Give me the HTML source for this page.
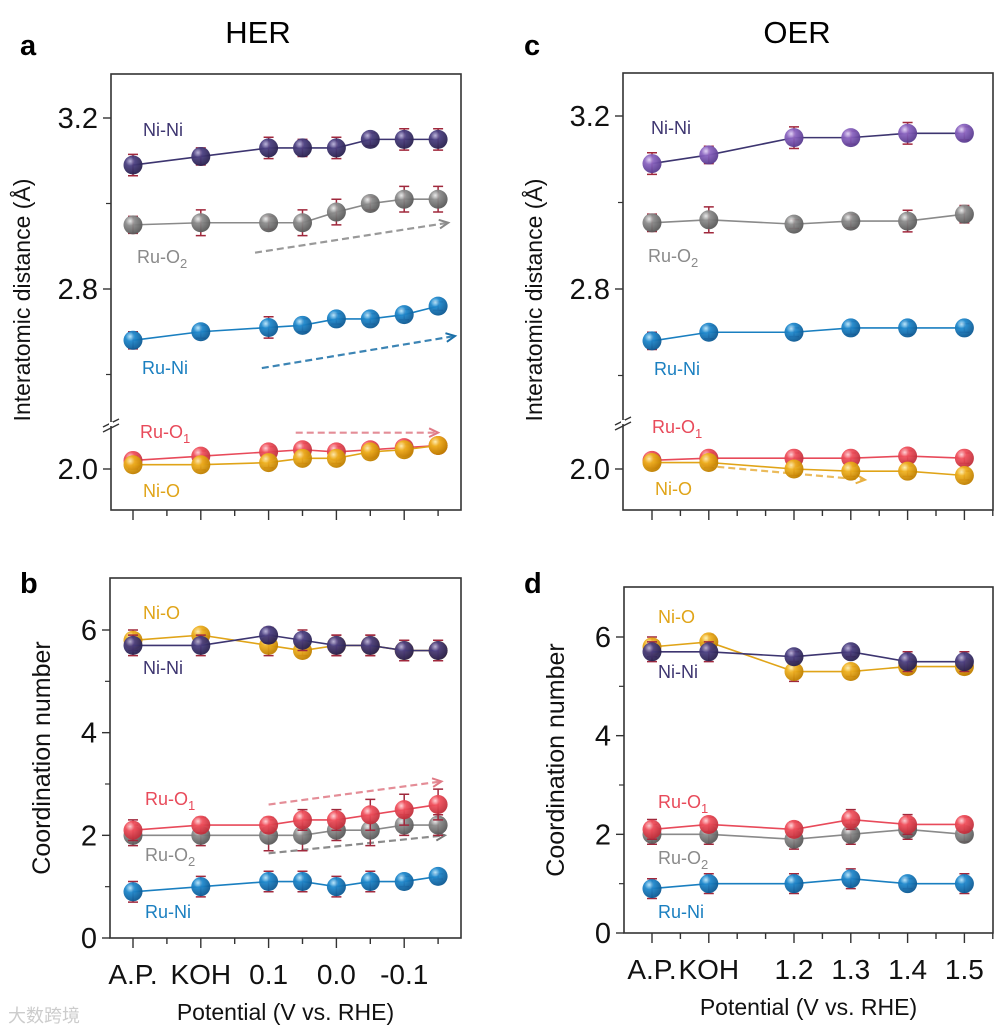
<!DOCTYPE html>
<html><head><meta charset="utf-8"><style>
html,body{margin:0;padding:0;background:#fff;}
svg{display:block;font-family:"Liberation Sans",sans-serif;}
</style></head><body>
<svg id="fig" width="1000" height="1032" viewBox="0 0 1000 1032" xmlns="http://www.w3.org/2000/svg">
<defs>
<radialGradient id="g-nini" cx="35%" cy="30%" r="70%"><stop offset="0" stop-color="#b8b0d8"/><stop offset="0.35" stop-color="#4a3f80"/><stop offset="1" stop-color="#2a2250"/></radialGradient>
<radialGradient id="g-nini2" cx="35%" cy="30%" r="70%"><stop offset="0" stop-color="#e0d0f4"/><stop offset="0.35" stop-color="#8a64c0"/><stop offset="1" stop-color="#5a3c90"/></radialGradient>
<radialGradient id="g-ruo2" cx="35%" cy="30%" r="70%"><stop offset="0" stop-color="#e8e8e8"/><stop offset="0.35" stop-color="#8c8c8c"/><stop offset="1" stop-color="#5a5a5a"/></radialGradient>
<radialGradient id="g-runi" cx="35%" cy="30%" r="70%"><stop offset="0" stop-color="#b8e4fa"/><stop offset="0.35" stop-color="#1f88cc"/><stop offset="1" stop-color="#0d5a94"/></radialGradient>
<radialGradient id="g-ruo1" cx="35%" cy="30%" r="70%"><stop offset="0" stop-color="#ffd0d4"/><stop offset="0.35" stop-color="#f0505c"/><stop offset="1" stop-color="#c0303c"/></radialGradient>
<radialGradient id="g-nio" cx="35%" cy="30%" r="70%"><stop offset="0" stop-color="#fff0b0"/><stop offset="0.35" stop-color="#eeb020"/><stop offset="1" stop-color="#c08000"/></radialGradient>
</defs>
<text x="258" y="43" font-size="31" text-anchor="middle">HER</text>
<text x="797" y="43" font-size="31" text-anchor="middle">OER</text>
<text x="20" y="55" font-size="29" font-weight="bold">a</text>
<text x="20" y="593" font-size="29" font-weight="bold">b</text>
<text x="524" y="55" font-size="29" font-weight="bold">c</text>
<text x="524" y="593" font-size="29" font-weight="bold">d</text>
</svg>
<script>
// ---------- data ----------
const herTickLabels = ["A.P.","KOH","0.1","0.0","-0.1"];
const oerTickLabels = ["A.P.","KOH","1.2","1.3","1.4","1.5"];
const herXIndex = [0,2,4,5,6,7,8,9];
const oerXIndex = [0,2,5,7,9,11];
const distTicks = [2.0,2.8,3.2];
const cnTicks = [0,2,4,6];

const aNiNi = [3.09,3.11,3.13,3.13,3.13,3.15,3.15,3.15];
const aNiNiErr = [0.025,0.02,0.025,0.02,0.025,0.015,0.025,0.025];
const aRuO2 = [2.95,2.955,2.955,2.955,2.98,3.00,3.01,3.01];
const aRuO2Err = [0.02,0.03,0.015,0.03,0.03,0.015,0.03,0.03];
const aRuNi = [2.68,2.70,2.71,2.715,2.73,2.73,2.74,2.76];
const aRuNiErr = [0.02,0.015,0.025,0.015,0.012,0.012,0.012,0.01];
const aRuO1 = [2.02,2.03,2.04,2.045,2.04,2.045,2.05,2.055];
const aRuO1Err = [0.01,0.012,0.012,0.015,0.012,0.012,0.015,0.012];
const aNiO = [2.01,2.01,2.015,2.025,2.025,2.04,2.045,2.055];
const aNiOErr = [0.01,0.012,0.012,0.012,0.012,0.012,0.012,0.012];

const bNiO = [5.8,5.9,5.7,5.6,5.7,5.7,5.6,5.6];
const bNiOErr = [0.2,0.1,0.2,0.1,0.2,0.2,0.2,0.2];
const bNiNi = [5.7,5.7,5.9,5.8,5.7,5.7,5.6,5.6];
const bNiNiErr = [0.2,0.2,0.15,0.2,0.2,0.2,0.2,0.2];
const bRuO1 = [2.1,2.2,2.2,2.3,2.3,2.4,2.5,2.6];
const bRuO1Err = [0.2,0.15,0.15,0.2,0.2,0.3,0.3,0.3];
const bRuO2 = [2.0,2.0,2.0,2.0,2.1,2.1,2.2,2.2];
const bRuO2Err = [0.2,0.2,0.3,0.3,0.2,0.3,0.2,0.2];
const bRuNi = [0.9,1.0,1.1,1.1,1.0,1.1,1.1,1.2];
const bRuNiErr = [0.2,0.2,0.2,0.2,0.2,0.2,0.1,0.05];

const cNiNi = [3.09,3.11,3.15,3.15,3.16,3.16];
const cNiNiErr = [0.025,0.02,0.025,0.015,0.025,0.015];
const cRuO2 = [2.953,2.96,2.95,2.957,2.957,2.973];
const cRuO2Err = [0.02,0.03,0.01,0.015,0.025,0.02];
const cRuNi = [2.68,2.70,2.70,2.71,2.71,2.71];
const cRuNiErr = [0.02,0.015,0.01,0.015,0.015,0.01];
const cRuO1 = [2.02,2.025,2.025,2.025,2.03,2.025];
const cRuO1Err = [0.012,0.012,0.012,0.012,0.012,0.012];
const cNiO = [2.015,2.015,2.0,1.995,1.995,1.985];
const cNiOErr = [0.012,0.012,0.015,0.012,0.012,0.01];

const dNiO = [5.8,5.9,5.3,5.3,5.4,5.4];
const dNiOErr = [0.2,0.15,0.2,0.1,0.15,0.15];
const dNiNi = [5.7,5.7,5.6,5.7,5.5,5.5];
const dNiNiErr = [0.2,0.2,0.1,0.1,0.2,0.2];
const dRuO1 = [2.1,2.2,2.1,2.3,2.2,2.2];
const dRuO1Err = [0.2,0.15,0.15,0.2,0.2,0.15];
const dRuO2 = [2.0,2.0,1.9,2.0,2.1,2.0];
const dRuO2Err = [0.2,0.2,0.2,0.2,0.2,0.15];
const dRuNi = [0.9,1.0,1.0,1.1,1.0,1.0];
const dRuNiErr = [0.2,0.2,0.2,0.2,0.1,0.2];

// ---------- drawing ----------
const NS = "http://www.w3.org/2000/svg";
const svg = document.getElementById("fig");
function mk(tag, attrs, parent){
  const e = document.createElementNS(NS, tag);
  for (const k in attrs) e.setAttribute(k, attrs[k]);
  (parent || svg).appendChild(e);
  return e;
}
const COL = {nini:"#3d3570", nini2:"#6a4ea8", ruo2:"#8a8a8a", runi:"#1a7fc0", ruo1:"#e84a5a", nio:"#e0a418"};
const ERRC = "#a0283c";

function distScale(y0, y28, y32){
  const k = (y28 - y32) / 0.4;
  return v => v > 2.4 ? y28 - (v - 2.8) * k : y0 - (v - 2.0) * k;
}
function cnScale(yZero, ySix){ const k = (yZero - ySix) / 6; return v => yZero - v * k; }

function drawFrame(p){
  const g = mk("g", {});
  
  
  const r = mk("rect", {x:p.x0, y:p.y0, width:p.x1-p.x0, height:p.y1-p.y0, fill:"none", stroke:"#333", "stroke-width":1.6}, g);
  
  
  p.yTicks.forEach(t => {
    const y = p.ys(t);
    mk("line", {x1:p.x0-8, x2:p.x0, y1:y, y2:y, stroke:"#333", "stroke-width":1.4}, g);
    const tx = mk("text", {x:p.x0-13, y:y+10, "font-size":29, "text-anchor":"end", fill:"#111"}, g);
    tx.textContent = p.fmt(t);
    
    
  });
  p.yMinor.forEach(t => {
    const y = p.ys(t);
    mk("line", {x1:p.x0-5, x2:p.x0, y1:y, y2:y, stroke:"#333", "stroke-width":1.2}, g);
  });
  for (let i = 0; i < p.nSlots; i++){
    const x = p.xs(i);
    const major = p.majorSlots.includes(i);
    mk("line", {x1:x, x2:x, y1:p.y1, y2:p.y1 + (major?10:6), stroke:"#333", "stroke-width":1.4}, g);
  }
  if (p.xLabels){
    p.xLabels.forEach((lab, j) => {
      const t = mk("text", {x:p.xs(p.majorSlots[j]), y:p.y1+46, "font-size":28, "text-anchor":"middle", fill:"#111"}, g);
      t.textContent = lab;
      
      
    });
  }
  if (p.breakY){
    mk("line", {x1:p.x0-8, y1:p.breakY+6, x2:p.x0+8, y2:p.breakY-2, stroke:"#333", "stroke-width":1.4}, g);
    mk("line", {x1:p.x0-8, y1:p.breakY+11, x2:p.x0+8, y2:p.breakY+3, stroke:"#333", "stroke-width":1.4}, g);
    mk("rect", {x:p.x0-2, y:p.breakY+1, width:4, height:4, fill:"#fff"}, g);
  }
  const yt = mk("text", {x:0, y:0, "font-size":p.ytSize, "text-anchor":"middle", fill:"#111",
    transform:`translate(${p.ytX},${p.ytY}) rotate(-90)`}, g);
  yt.textContent = p.yTitle;
  
  
  if (p.xTitle){
    const xt = mk("text", {x:(p.x0+p.x1)/2, y:p.y1+82, "font-size":23, "text-anchor":"middle", fill:"#111"}, g);
    xt.textContent = p.xTitle;
    
    
  }
}

function drawSeries(p, vals, errs, key, grad, name){
  const g = mk("g", {});
  
  
  const pts = vals.map((v,i) => [p.xs(p.xIndex[i]), p.ys(v)]);
  const pl = mk("polyline", {points: pts.map(q=>q.join(",")).join(" "), fill:"none", stroke:COL[key], "stroke-width":1.6}, g);
  
  
  vals.forEach((v,i) => {
    const x = pts[i][0], yt = p.ys(v + errs[i]), yb = p.ys(v - errs[i]);
    const eb = mk("path", {d:`M${x},${yt}V${yb}M${x-5},${yt}H${x+5}M${x-5},${yb}H${x+5}`, stroke:ERRC, "stroke-width":1.5, fill:"none"}, g);
    
    
  });
  vals.forEach((v,i) => {
    const c = mk("circle", {cx:pts[i][0], cy:pts[i][1], r:9.5, fill:`url(#${grad})`, opacity:0.95}, g);
    
    
  });
}

function label(x, y, txt, sub, color, name){
  const t = mk("text", {x:x, y:y, "font-size":18, fill:color});
  
  
  t.appendChild(document.createTextNode(txt));
  if (sub){
    const s = document.createElementNS(NS, "tspan");
    s.setAttribute("font-size", "13"); s.setAttribute("dy", "5");
    s.textContent = sub; t.appendChild(s);
  }
}
function arrow(p, xa, va, xb, vb, color, name){
  const x1 = p.xs(xa), y1 = p.ys(va), x2 = p.xs(xb), y2 = p.ys(vb);
  const g = mk("g", {});
  
  
  mk("line", {x1:x1, y1:y1, x2:x2, y2:y2, stroke:color, "stroke-width":2.2, "stroke-dasharray":"7,4", opacity:0.85}, g);
  const a = Math.atan2(y2-y1, x2-x1), L = 10;
  const pa = [x2 - L*Math.cos(a-0.45), y2 - L*Math.sin(a-0.45)], pb = [x2 - L*Math.cos(a+0.45), y2 - L*Math.sin(a+0.45)];
  mk("path", {d:`M${pa[0]},${pa[1]}L${x2},${y2}L${pb[0]},${pb[1]}`, stroke:color, "stroke-width":2, fill:"none"}, g);
}

const herXs = i => 133 + i * 33.9;
const oerXs = i => 652 + i * 28.4;

const pa = {name:"panel-a", x0:111, x1:461, y0:74, y1:510, ys:distScale(469,289,118), xs:herXs, nSlots:10,
  majorSlots:[0,2,4,6,8], xIndex:herXIndex, yTicks:distTicks, yMinor:[3.0,2.6], fmt:v=>v.toFixed(1),
  breakY:421, yTitle:"Interatomic distance (Å)", ytX:30, ytY:300, ytSize:23};
const pb = {name:"panel-b", x0:110, x1:461, y0:578, y1:938, ys:cnScale(938,630), xs:herXs, nSlots:10,
  majorSlots:[0,2,4,6,8], xIndex:herXIndex, yTicks:cnTicks, yMinor:[1,3,5], fmt:v=>String(v),
  xLabels:herTickLabels, xTitle:"Potential (V vs. RHE)", yTitle:"Coordination number", ytX:50, ytY:758, ytSize:25};
const pc = {name:"panel-c", x0:623, x1:993, y0:73, y1:510, ys:distScale(469,289,116), xs:oerXs, nSlots:13,
  majorSlots:[0,2,5,7,9,11], xIndex:oerXIndex, yTicks:distTicks, yMinor:[3.0,2.6], fmt:v=>v.toFixed(1),
  breakY:419, yTitle:"Interatomic distance (Å)", ytX:542, ytY:300, ytSize:23};
const pd = {name:"panel-d", x0:624, x1:993, y0:587, y1:933, ys:cnScale(933,637), xs:oerXs, nSlots:13,
  majorSlots:[0,2,5,7,9,11], xIndex:oerXIndex, yTicks:cnTicks, yMinor:[1,3,5], fmt:v=>String(v),
  xLabels:oerTickLabels, xTitle:"Potential (V vs. RHE)", yTitle:"Coordination number", ytX:564, ytY:760, ytSize:25};
[pa,pb,pc,pd].forEach(drawFrame);

arrow(pa, 3.6, 2.885, 9.3, 2.955, "#888", "ru-o2-trend-arrow");
arrow(pa, 3.8, 2.615, 9.5, 2.69, "#1a6fa8", "ru-ni-trend-arrow");
arrow(pa, 4.8, 2.085, 9.0, 2.085, "#e07a86", "ru-o1-trend-arrow");
drawSeries(pa, aRuO2, aRuO2Err, "ruo2", "g-ruo2", "a-ru-o2-series");
drawSeries(pa, aNiNi, aNiNiErr, "nini", "g-nini", "a-ni-ni-series");
drawSeries(pa, aRuNi, aRuNiErr, "runi", "g-runi", "a-ru-ni-series");
drawSeries(pa, aRuO1, aRuO1Err, "ruo1", "g-ruo1", "a-ru-o1-series");
drawSeries(pa, aNiO, aNiOErr, "nio", "g-nio", "a-ni-o-series");
label(143,136,"Ni-Ni","",COL.nini,"a-ni-ni-label");
label(137,263,"Ru-O","2",COL.ruo2,"a-ru-o2-label");
label(142,374,"Ru-Ni","",COL.runi,"a-ru-ni-label");
label(140,438,"Ru-O","1",COL.ruo1,"a-ru-o1-label");
label(143,497,"Ni-O","",COL.nio,"a-ni-o-label");

arrow(pb, 4.0, 2.6, 9.1, 3.05, "#e07a86", "b-ru-o1-trend-arrow");
arrow(pb, 4.0, 1.65, 9.2, 2.0, "#777", "b-ru-o2-trend-arrow");
drawSeries(pb, bNiO, bNiOErr, "nio", "g-nio", "b-ni-o-series");
drawSeries(pb, bNiNi, bNiNiErr, "nini", "g-nini", "b-ni-ni-series");
drawSeries(pb, bRuO2, bRuO2Err, "ruo2", "g-ruo2", "b-ru-o2-series");
drawSeries(pb, bRuO1, bRuO1Err, "ruo1", "g-ruo1", "b-ru-o1-series");
drawSeries(pb, bRuNi, bRuNiErr, "runi", "g-runi", "b-ru-ni-series");
label(143,619,"Ni-O","",COL.nio,"b-ni-o-label");
label(143,674,"Ni-Ni","",COL.nini,"b-ni-ni-label");
label(145,805,"Ru-O","1",COL.ruo1,"b-ru-o1-label");
label(145,861,"Ru-O","2",COL.ruo2,"b-ru-o2-label");
label(145,918,"Ru-Ni","",COL.runi,"b-ru-ni-label");

arrow(pc, 2.3, 2.005, 7.5, 1.975, "#e8b040", "c-ni-o-trend-arrow");
drawSeries(pc, cRuO2, cRuO2Err, "ruo2", "g-ruo2", "c-ru-o2-series");
drawSeries(pc, cNiNi, cNiNiErr, "nini", "g-nini2", "c-ni-ni-series");
drawSeries(pc, cRuNi, cRuNiErr, "runi", "g-runi", "c-ru-ni-series");
drawSeries(pc, cRuO1, cRuO1Err, "ruo1", "g-ruo1", "c-ru-o1-series");
drawSeries(pc, cNiO, cNiOErr, "nio", "g-nio", "c-ni-o-series");
label(651,134,"Ni-Ni","",COL.nini,"c-ni-ni-label");
label(648,262,"Ru-O","2",COL.ruo2,"c-ru-o2-label");
label(654,375,"Ru-Ni","",COL.runi,"c-ru-ni-label");
label(652,433,"Ru-O","1",COL.ruo1,"c-ru-o1-label");
label(655,495,"Ni-O","",COL.nio,"c-ni-o-label");

drawSeries(pd, dNiO, dNiOErr, "nio", "g-nio", "d-ni-o-series");
drawSeries(pd, dNiNi, dNiNiErr, "nini", "g-nini", "d-ni-ni-series");
drawSeries(pd, dRuO2, dRuO2Err, "ruo2", "g-ruo2", "d-ru-o2-series");
drawSeries(pd, dRuO1, dRuO1Err, "ruo1", "g-ruo1", "d-ru-o1-series");
drawSeries(pd, dRuNi, dRuNiErr, "runi", "g-runi", "d-ru-ni-series");
label(658,623,"Ni-O","",COL.nio,"d-ni-o-label");
label(658,678,"Ni-Ni","",COL.nini,"d-ni-ni-label");
label(658,808,"Ru-O","1",COL.ruo1,"d-ru-o1-label");
label(658,864,"Ru-O","2",COL.ruo2,"d-ru-o2-label");
label(658,918,"Ru-Ni","",COL.runi,"d-ru-ni-label");

const wm = mk("text", {x:8, y:1022, "font-size":18, fill:"#ccc", "font-family":"'Liberation Sans','Noto Sans CJK SC',sans-serif"});
wm.textContent = "大数跨境";


</script>
</body></html>
